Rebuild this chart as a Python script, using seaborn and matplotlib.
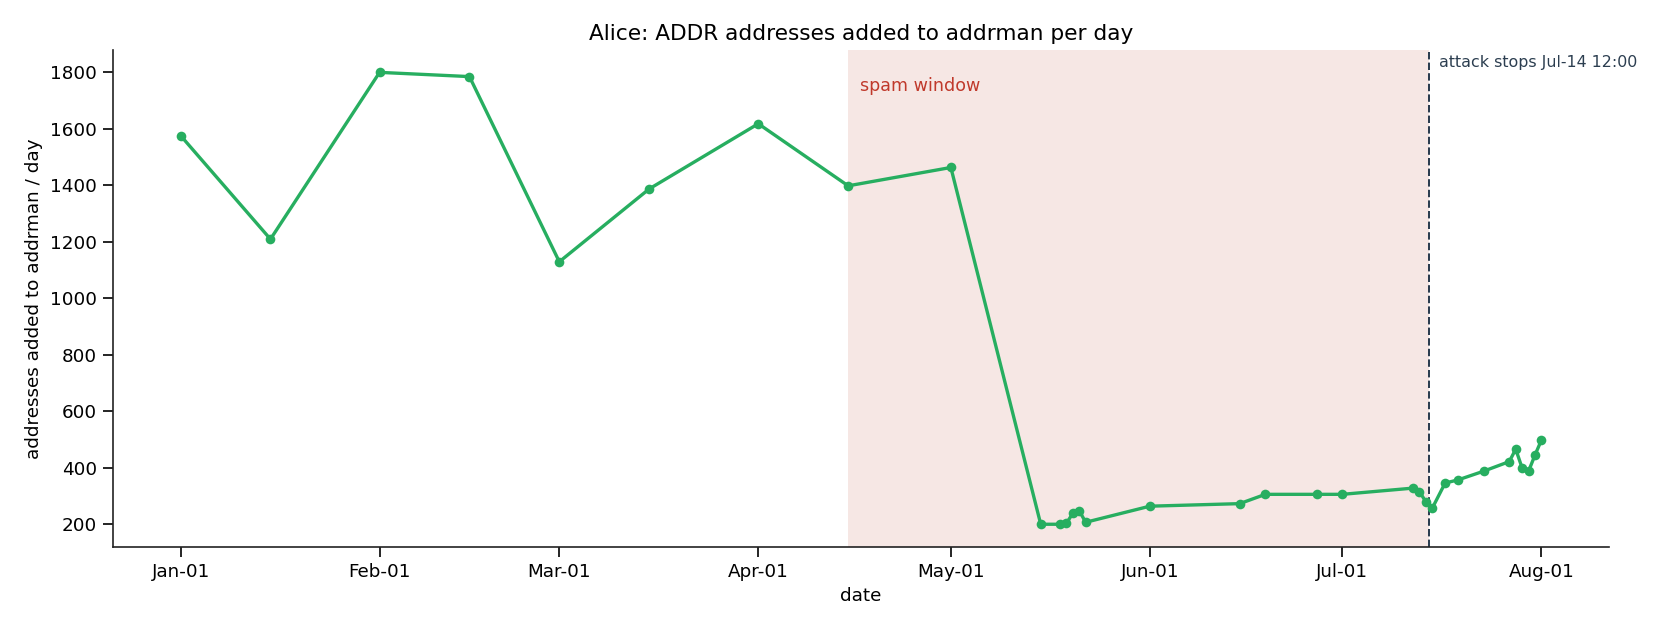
import matplotlib
matplotlib.use('Agg')
import matplotlib.pyplot as plt
import matplotlib.dates as mdates
import matplotlib.transforms as mtransforms
import seaborn as sns
import pandas as pd

# daily samples
dates = ['2025-01-01', '2025-01-15', '2025-02-01', '2025-02-15', '2025-03-01',
         '2025-03-15', '2025-04-01', '2025-04-15', '2025-05-01', '2025-05-15',
         '2025-05-18', '2025-05-19', '2025-05-20', '2025-05-21', '2025-05-22',
         '2025-06-01', '2025-06-15', '2025-06-19', '2025-06-27', '2025-07-01',
         '2025-07-12', '2025-07-13', '2025-07-14', '2025-07-15', '2025-07-17',
         '2025-07-19', '2025-07-23', '2025-07-27', '2025-07-28', '2025-07-29',
         '2025-07-30', '2025-07-31', '2025-08-01']
added = [1576, 1209, 1800, 1785, 1129,
         1387, 1618, 1398, 1463, 199,
         199, 202, 238, 247, 206,
         263, 272, 305, 305, 305,
         327, 314, 279, 256, 345,
         356, 387, 421, 465, 398,
         387, 444, 497]

spam_start = '2025-04-15'
attack_stop = '2025-07-14 12:00'

df = pd.DataFrame({'date': pd.to_datetime(dates), 'added': added})
spam_start = pd.Timestamp(spam_start)
attack_stop = pd.Timestamp(attack_stop)

sns.set_theme(style="ticks", rc={
    'text.color': 'black', 'axes.labelcolor': 'black',
    'xtick.color': 'black', 'ytick.color': 'black',
    'axes.edgecolor': '#222222', 'axes.linewidth': 1.0,
    'xtick.major.width': 1.0, 'ytick.major.width': 1.0,
})
plt.rcParams['font.family'] = ['DejaVu Sans']

fig, ax = plt.subplots(figsize=(14, 5.25), dpi=120)

# spam window shading
ax.axvspan(spam_start, attack_stop, color='#f6e7e4', lw=0, zorder=0)
ax.axvline(attack_stop, color='#2c3e50', ls='--', lw=1.2)

sns.lineplot(data=df, x='date', y='added', ax=ax, color='#27ae60',
             linewidth=2, marker='o', markersize=5.8, markeredgewidth=0)

trans = mtransforms.blended_transform_factory(ax.transData, ax.transAxes)
ax.text(spam_start + pd.Timedelta(days=1.8), 0.945, 'spam window',
        transform=trans, color='#c0392b', fontsize=10.5, va='top')
ax.text(attack_stop + pd.Timedelta(days=1.6), 0.99, 'attack stops Jul-14 12:00',
        transform=trans, color='#2c3e50', fontsize=9.5, va='top')

ax.xaxis.set_major_locator(mdates.MonthLocator())
ax.xaxis.set_major_formatter(mdates.DateFormatter('%b-%d'))
ax.tick_params(labelsize=11)

ax.set_title('Alice: ADDR addresses added to addrman per day', fontsize=13)
ax.set_xlabel('date', fontsize=11)
ax.set_ylabel('addresses added to addrman / day', fontsize=11)
sns.despine(ax=ax)

fig.subplots_adjust(left=0.067, right=0.958, top=0.921, bottom=0.132)
fig.savefig('out.png', dpi=120)
